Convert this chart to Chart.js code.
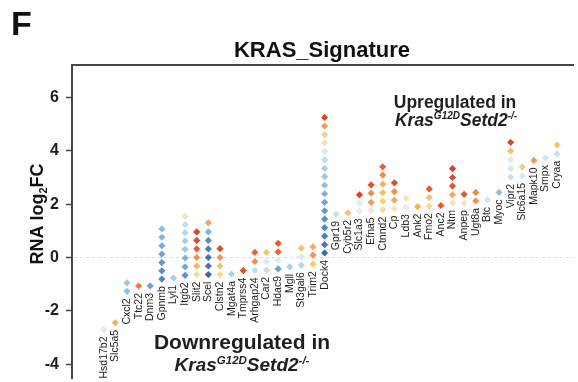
<!DOCTYPE html>
<html>
<head>
<meta charset="utf-8">
<script src="https://cdn.jsdelivr.net/npm/chart.js@4.4.1/dist/chart.umd.min.js"></script>
<style>
  html, body { margin: 0; padding: 0; background: #fff; overflow: hidden; }
  #wrap { width: 578px; height: 382px; position: relative; }
</style>
</head>
<body>
<div id="wrap"><canvas id="c" width="578" height="382"></canvas></div>
<script>
// Genes of the KRAS signature, ordered along the x axis
const genes = [
  'Hsd17b2', 'Slc5a5', 'Cxcl2', 'Ttc22', 'Dnm3', 'Gpnmb', 'Lyl1', 'Itgb2', 'Slit2', 'Scel',
  'Clstn2', 'Mgat4a', 'Tmprss4', 'Arhgap24', 'Car2', 'Hdac9', 'Mgll', 'St3gal6', 'Trim2', 'Dock4',
  'Gpr19', 'Cyb5r2', 'Slc1a3', 'Efna5', 'Ctnnd2', 'Cp', 'Ldb3', 'Ank2', 'Fmo2', 'Anc2',
  'Ntm', 'Anpep', 'Ugt8a', 'Btc', 'Myoc', 'Vipr2', 'Slc6a15', 'Mapk10', 'Smpx', 'Cryaa'
];

// RNA log2FC of each diamond per gene (bottom to top)
const log2fc = [
  [-2.70],
  [-2.45],
  [-1.27, -0.95],
  [-1.07],
  [-1.07],
  [-0.81, -0.50, -0.19, 0.13, 0.44, 0.76, 1.07],
  [-0.77],
  [-0.67, -0.35, -0.02, 0.31, 0.62, 0.93, 1.23, 1.54],
  [-0.64, -0.32, 0.00, 0.32, 0.64, 0.96],
  [-0.64, -0.32, 0.00, 0.32, 0.64, 0.96, 1.30],
  [-0.64, -0.32, 0.00, 0.33],
  [-0.62],
  [-0.49],
  [-0.48, -0.15, 0.19],
  [-0.47, -0.15, 0.19],
  [-0.43, -0.11, 0.21, 0.53],
  [-0.35],
  [-0.29, 0.02, 0.35],
  [-0.25, 0.09, 0.40],
  [0.17, 0.48, 0.80, 1.12, 1.44, 1.75, 2.07, 2.39, 2.71, 3.03, 3.34, 3.66, 3.98, 4.30, 4.61, 4.93, 5.25],
  [1.63],
  [1.67],
  [1.73, 2.04, 2.35],
  [1.77, 2.07, 2.41, 2.72],
  [1.79, 2.11, 2.43, 2.75, 3.09, 3.40],
  [1.83, 2.15, 2.47, 2.80],
  [1.89, 2.22],
  [1.91],
  [1.93, 2.25, 2.57],
  [1.95],
  [2.04, 2.35, 2.68, 3.00, 3.33],
  [2.04, 2.37],
  [2.12, 2.44],
  [2.16],
  [2.44],
  [3.02, 3.33, 3.67, 3.99, 4.32],
  [3.06, 3.40],
  [3.64],
  [3.73],
  [3.89, 4.22]
];

// Fill colour of each diamond (same order as log2fc)
const dotColors = [
  ['#e0eee2'],
  ['#f6b15e'],
  ['#8fbfe2', '#9ccae6'],
  ['#ec7a45'],
  ['#6b9fd3'],
  ['#5284c5', '#5a8ccb', '#6596cf', '#6e9fd4', '#79aad9', '#84b4de', '#8fbde2'],
  ['#a3cde8'],
  ['#5f90cc', '#74a7d6', '#80b3dc', '#9ccae6', '#a5d0e9', '#b3d9ec', '#bddff0', '#ede3c0'],
  ['#f6dc94', '#f6b560', '#ef8c4e', '#e4593a', '#dc4a2c', '#d9432a'],
  ['#3d66b1', '#4673bb', '#4470b9', '#4b7bc1', '#5b8dcc', '#82b3de', '#f4a65a'],
  ['#f6dc94', '#f8bf68', '#f0944f', '#dc4a2c'],
  ['#a8d0e8'],
  ['#e04f30'],
  ['#bfe0ee', '#f0904f', '#e8663e'],
  ['#bfe0ee', '#d6ebf4', '#f8c46c'],
  ['#6f9fd3', '#dceef5', '#e8663e', '#e05a36'],
  ['#a8cfe8'],
  ['#b3d8ec', '#d8ecf4', '#f8c06a'],
  ['#f8ca72', '#f29452', '#f4ac5e'],
  ['#3f6bb5', '#4775bc', '#4e7ec2', '#5586c7', '#5a8ecb', '#6399d0', '#6fa5d6', '#7eb3dd', '#8cbfe2',
   '#9ccae6', '#a9d1e9', '#bcdcec', '#d6ebf3', '#eee3c0', '#f6d07a', '#f29e55', '#dc4a2c'],
  ['#c6e2f0'],
  ['#f8c26a'],
  ['#e2efe2', '#dfeee2', '#d7422a'],
  ['#e3eedf', '#f39a55', '#f08a4e', '#e0522f'],
  ['#f6df96', '#f8cc78', '#f8bf67', '#f6b25f', '#ef8a4e', '#e8603a'],
  ['#efe6c2', '#f4a75c', '#ef8a4e', '#dc4a2c'],
  ['#e4efe6', '#efe4bd'],
  ['#f6b15e'],
  ['#f5dc93', '#f7c16b', '#e45a35'],
  ['#e45a35'],
  ['#efe5c0', '#f3ac5c', '#e05530', '#dc4a2c', '#d7402a'],
  ['#efe6c2', '#e25532'],
  ['#f09452', '#ef8a4e'],
  ['#cfe6f1'],
  ['#8fc0e0'],
  ['#c4e1ef', '#d2e8f2', '#e0eee0', '#f8c26a', '#dc4a2c'],
  ['#d5eaf3', '#f8cc76'],
  ['#f09a55'],
  ['#d0e7f2'],
  ['#c6e2f0', '#f8c46c']
];

const yTicks = [-4, -2, 0, 2, 4, 6];

const FONT = '"Liberation Sans", Arial, Helvetica, sans-serif';
const NARROW = '"Liberation Sans Narrow", "Arial Narrow", "Liberation Sans", Arial, sans-serif';
const AXIS = '#474747';
const INK = '#1f1f1f';

const points = [];
const pointColors = [];
genes.forEach((g, i) => {
  log2fc[i].forEach((v, k) => {
    points.push({ x: i, y: v });
    pointColors.push(dotColors[i][k]);
  });
});

// Draws a line of text made of styled runs (used for superscripts)
function drawRuns(ctx, runs, cx, baseline) {
  let total = 0;
  runs.forEach(r => { ctx.font = r.font; r.w = ctx.measureText(r.text).width; total += r.w; });
  let x = cx - total / 2;
  ctx.textAlign = 'left';
  ctx.textBaseline = 'alphabetic';
  runs.forEach(r => {
    ctx.font = r.font;
    ctx.fillText(r.text, x, baseline + (r.dy || 0));
    x += r.w;
  });
}

function genotypeRuns(size, supSize) {
  const big = `italic bold ${size}px ${FONT}`;
  const small = `italic bold ${supSize}px ${FONT}`;
  const up = -Math.round(size * 0.38);
  return [
    { text: 'Kras', font: big },
    { text: 'G12D', font: small, dy: up },
    { text: 'Setd2', font: big },
    { text: '-/-', font: small, dy: up }
  ];
}

const decorations = {
  id: 'decorations',
  beforeDraw(chart) {
    const ctx = chart.ctx;
    ctx.save();
    ctx.fillStyle = '#ffffff';
    ctx.fillRect(0, 0, chart.width, chart.height);
    ctx.restore();
  },
  beforeDatasetsDraw(chart) {
    const { ctx, chartArea, scales } = chart;
    const y0 = Math.round(scales.y.getPixelForValue(0)) + 0.5;
    ctx.save();
    ctx.strokeStyle = '#dcdcdc';
    ctx.lineWidth = 1;
    ctx.setLineDash([3, 3]);
    ctx.beginPath();
    ctx.moveTo(chartArea.left + 2, y0);
    ctx.lineTo(chartArea.right, y0);
    ctx.stroke();
    ctx.restore();
  },
  afterDraw(chart) {
    const { ctx, chartArea, scales } = chart;
    const xs = scales.x, ys = scales.y;
    ctx.save();

    // frame line along the top of the plot
    ctx.strokeStyle = AXIS;
    ctx.lineWidth = 2;
    ctx.beginPath();
    ctx.moveTo(chartArea.left - 1, chartArea.top);
    ctx.lineTo(chartArea.right, chartArea.top);
    ctx.stroke();

    // gene names under each column, reading upwards
    ctx.fillStyle = INK;
    ctx.font = `10.5px ${NARROW}`;
    ctx.textAlign = 'right';
    ctx.textBaseline = 'middle';
    genes.forEach((g, i) => {
      const low = Math.min(...log2fc[i]);
      const px = xs.getPixelForValue(i);
      const py = ys.getPixelForValue(low) + 7;
      ctx.save();
      ctx.translate(px, py);
      ctx.rotate(-Math.PI / 2);
      ctx.fillText(g, 0, 0);
      ctx.restore();
    });

    // panel letter
    ctx.fillStyle = '#111';
    ctx.font = `bold 34px ${FONT}`;
    ctx.textAlign = 'left';
    ctx.textBaseline = 'alphabetic';
    ctx.fillText('F', 11, 35);

    // title
    ctx.font = `bold 22px ${FONT}`;
    ctx.textAlign = 'center';
    ctx.fillText('KRAS_Signature', 322, 57);

    // y axis title with subscript
    ctx.save();
    ctx.translate(43, 214);
    ctx.rotate(-Math.PI / 2);
    drawRuns(ctx, [
      { text: 'RNA log', font: `bold 18px ${FONT}` },
      { text: '2', font: `bold 11px ${FONT}`, dy: 4 },
      { text: 'FC', font: `bold 18px ${FONT}` }
    ], 0, 0);
    ctx.restore();

    // direction annotations
    ctx.fillStyle = INK;
    ctx.font = `bold 17.5px ${FONT}`;
    ctx.textAlign = 'center';
    ctx.fillText('Upregulated in', 455, 108);
    drawRuns(ctx, genotypeRuns(17.5, 10), 456, 126);

    ctx.font = `bold 21px ${FONT}`;
    ctx.textAlign = 'center';
    ctx.fillText('Downregulated in', 242, 349);
    drawRuns(ctx, genotypeRuns(19, 11.5), 242, 371);

    ctx.restore();
  }
};

new Chart(document.getElementById('c'), {
  type: 'scatter',
  data: {
    datasets: [{
      data: points,
      pointStyle: 'rectRot',
      pointRadius: 3.6,
      pointBorderWidth: 0,
      pointBackgroundColor: pointColors,
      pointBorderColor: pointColors
    }]
  },
  options: {
    responsive: false,
    devicePixelRatio: 1,
    animation: false,
    events: [],
    layout: { padding: { top: 65, left: 0, right: 0, bottom: 0 } },
    plugins: { legend: { display: false }, tooltip: { enabled: false }, title: { display: false } },
    scales: {
      x: {
        type: 'linear',
        display: false,
        min: -2.73,
        max: 40.45
      },
      y: {
        type: 'linear',
        min: -4.52,
        max: 7.22,
        afterBuildTicks: (scale) => { scale.ticks = yTicks.map(v => ({ value: v })); },
        afterFit: (scale) => {
          scale.width = 72;
          scale.paddingTop = 0;
          scale.paddingBottom = 0;
        },
        border: { display: true, color: AXIS, width: 2 },
        grid: {
          display: true,
          drawOnChartArea: false,
          drawTicks: true,
          tickLength: 6,
          tickColor: AXIS,
          tickWidth: 1.5
        },
        ticks: {
          color: INK,
          font: { family: FONT, size: 16, weight: 'bold' },
          padding: 7,
          callback: (v) => String(v)
        }
      }
    }
  },
  plugins: [decorations]
});
</script>
</body>
</html>
